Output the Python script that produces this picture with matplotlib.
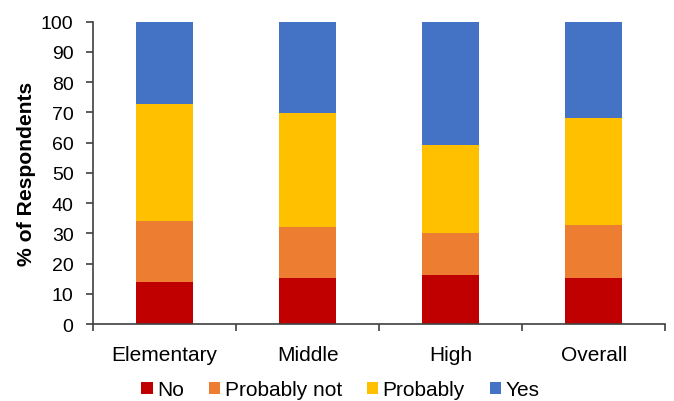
import numpy as np
import matplotlib.pyplot as plt

plt.rcParams['font.family'] = ['Liberation Sans', 'DejaVu Sans']

levels = ['Elementary', 'Middle', 'High', 'Overall']
responses = ['No', 'Probably not', 'Probably', 'Yes']
colors = ['#C00000', '#ED7D31', '#FFC000', '#4472C4']

no_pct = [13.8, 15.1, 16.1, 15.1]
probably_not_pct = [20.4, 17.0, 14.0, 17.5]
probably_pct = [38.6, 37.8, 29.1, 35.4]
yes_pct = [27.2, 30.1, 40.8, 32.0]

series = [no_pct, probably_not_pct, probably_pct, yes_pct]

fig = plt.figure(figsize=(6.74, 4.02), dpi=100)
ax = fig.add_axes([0.138, 0.1915, 0.849, 0.752])

x = np.arange(len(levels))
bottom = np.zeros(len(levels))
for name, vals, c in zip(responses, series, colors):
    ax.bar(x, vals, width=0.4, bottom=bottom, color=c, label=name)
    bottom += np.array(vals)

ax.set_xlim(-0.5, len(levels) - 0.5)
ax.set_ylim(0, 100)
ax.set_yticks(np.arange(0, 101, 10))
ax.set_xticks(x)
ax.set_xticklabels(levels)
ax.set_xticks(np.arange(-0.5, len(levels)), minor=True)
ax.tick_params(axis='x', which='major', length=0, labelsize=15, pad=15)
ax.tick_params(axis='x', which='minor', length=5, width=1.2, color='#404040')
ax.tick_params(axis='y', length=5, width=1.2, color='#404040', labelsize=14, pad=9)

for s in ['top', 'right']:
    ax.spines[s].set_visible(False)
for s in ['left', 'bottom']:
    ax.spines[s].set_color('#404040')
    ax.spines[s].set_linewidth(1.2)

ax.set_ylabel('% of Respondents', fontsize=15.2, fontweight='bold')
ax.yaxis.set_label_coords(-0.099, 0.5)

fig.legend(*ax.get_legend_handles_labels(), loc='center', bbox_to_anchor=(0.505, 0.028),
           ncol=4, frameon=False, borderpad=0, fontsize=15,
           handlelength=0.55, handleheight=0.55, handletextpad=0.2, columnspacing=1.2)

fig.savefig('out.png', dpi=100)
